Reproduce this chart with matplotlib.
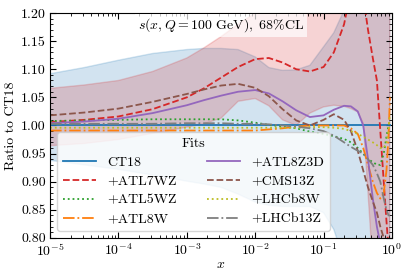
import numpy as np
import matplotlib
matplotlib.use("Agg")
import matplotlib.pyplot as plt
from matplotlib.ticker import MultipleLocator

plt.rcParams['font.family'] = ['cmr10', 'DejaVu Serif']
plt.rcParams['mathtext.fontset'] = 'cm'
plt.rcParams['axes.formatter.use_mathtext'] = True
plt.rcParams['font.size'] = 10

# log10(x) grid the values were read on
logx = [-5, -4.5, -4, -3.5, -3, -2.75, -2.5, -2.25, -2, -1.8, -1.6, -1.4, -1.2, -1.0,
        -0.85, -0.7, -0.6, -0.5, -0.42, -0.35, -0.28, -0.22, -0.17, -0.12, -0.08, -0.05, -0.03]
x = 10 ** np.array(logx)

ct18 = [1.0] * len(logx)
atl7wz = [1.006, 1.010, 1.016, 1.029, 1.050, 1.066, 1.085, 1.104, 1.118, 1.120, 1.112, 1.100, 1.096, 1.104,
          1.13, 1.18, 1.24, 1.27, 1.23, 1.17, 1.12, 1.08, 0.99, 0.90, 0.83, 0.78, 0.75]
atl5wz = [1.008, 1.009, 1.010, 1.011, 1.011, 1.011, 1.011, 1.009, 1.005, 1.001, 0.998, 0.995, 0.989, 0.985,
          0.981, 0.976, 0.970, 0.960, 0.950, 0.940, 0.935, 0.930, 0.930, 0.950, 0.980, 1.000, 1.010]
atl8w = [0.991, 0.991, 0.991, 0.991, 0.991, 0.991, 0.991, 0.991, 0.991, 0.993, 0.995, 0.998, 1.0, 1.0,
         1.0, 1.0, 0.995, 0.985, 0.96, 0.93, 0.90, 0.88, 0.87, 0.88, 0.92, 0.98, 1.05]
atl8z3d = [1.004, 1.007, 1.012, 1.022, 1.036, 1.045, 1.053, 1.060, 1.063, 1.057, 1.043, 1.027, 1.015, 1.018,
           1.028, 1.035, 1.034, 1.025, 1.0, 0.94, 0.87, 0.82, 0.79, 0.77, 0.75, 0.74, 0.73]
cms13z = [1.018, 1.023, 1.030, 1.042, 1.056, 1.064, 1.071, 1.074, 1.067, 1.052, 1.029, 1.009, 1.0, 1.010,
          1.020, 1.010, 0.99, 0.955, 0.92, 0.89, 0.865, 0.845, 0.82, 0.80, 0.78, 0.76, 0.75]
lhcb8w = [0.996, 0.996, 0.996, 0.996, 0.996, 0.996, 0.996, 0.996, 0.996, 0.996, 0.996, 0.996, 0.997, 0.997,
          0.996, 0.994, 0.990, 0.985, 0.980, 0.975, 0.970, 0.965, 0.960, 0.960, 0.970, 0.990, 1.02]
lhcb13z = [1.003, 1.003, 1.003, 1.003, 1.004, 1.004, 1.004, 1.003, 1.003, 1.002, 1.0, 0.998, 0.995, 0.99,
           0.982, 0.970, 0.962, 0.955, 0.950, 0.940, 0.930, 0.915, 0.90, 0.87, 0.85, 0.84, 0.84]

# 68% CL bands
ct18_hi = [1.092, 1.103, 1.116, 1.128, 1.135, 1.137, 1.137, 1.135, 1.122, 1.103, 1.098, 1.099, 1.107, 1.14,
           1.165, 1.205, 1.26, 1.33, 1.40, 1.5, 1.6, 1.7, 1.8, 1.9, 2.0, 2.1, 2.2]
ct18_lo = [0.938, 0.930, 0.922, 0.912, 0.901, 0.896, 0.890, 0.878, 0.864, 0.858, 0.856, 0.856, 0.856, 0.845,
           0.815, 0.76, 0.72, 0.68, 0.64, 0.60, 0.56, 0.52, 0.48, 0.44, 0.40, 0.36, 0.32]
atl7_hi = [1.066, 1.072, 1.080, 1.096, 1.120, 1.138, 1.158, 1.180, 1.200, 1.22, 1.24, 1.27, 1.30, 1.34,
           1.38, 1.42, 1.46, 1.5, 1.55, 1.6, 1.65, 1.7, 1.75, 1.8, 1.85, 1.9, 1.95]
atl7_lo = [0.964, 0.968, 0.975, 0.986, 0.997, 1.003, 1.013, 1.043, 1.048, 1.035, 1.010, 1.0, 1.022, 1.033,
           1.036, 1.034, 1.030, 1.024, 1.004, 0.88, 0.75, 0.70, 0.65, 0.60, 0.55, 0.50, 0.45]

fig = plt.figure(figsize=(4.07, 2.71), dpi=100)
ax = fig.add_axes([0.123, 0.122, 0.840, 0.830])

ax.fill_between(x, ct18_lo, ct18_hi, color='tab:blue', alpha=0.2)
ax.fill_between(x, atl7_lo, atl7_hi, color='tab:red', alpha=0.2)

lw = 1.3
ax.plot(x, ct18, color='tab:blue', lw=lw, ls='-', label='CT18')
ax.plot(x, atl7wz, color='tab:red', lw=lw, ls='--', label='+ATL7WZ')
ax.plot(x, atl5wz, color='tab:green', lw=lw, ls=':', label='+ATL5WZ')
ax.plot(x, atl8w, color='tab:orange', lw=lw, ls='-.', label='+ATL8W')
ax.plot(x, atl8z3d, color='tab:purple', lw=lw, ls='-', label='+ATL8Z3D')
ax.plot(x, cms13z, color='tab:brown', lw=lw, ls='--', label='+CMS13Z')
ax.plot(x, lhcb8w, color='tab:olive', lw=lw, ls=':', label='+LHCb8W')
ax.plot(x, lhcb13z, color='tab:gray', lw=lw, ls='-.', label='+LHCb13Z')

ax.set_xscale('log')
ax.set_xlim(1e-5, 1)
ax.set_ylim(0.8, 1.2)
ax.yaxis.set_major_locator(MultipleLocator(0.05))
ax.yaxis.set_minor_locator(MultipleLocator(0.01))
ax.yaxis.set_major_formatter(matplotlib.ticker.FormatStrFormatter('%.2f'))
ax.tick_params(which='both', direction='in', top=True, right=True)
ax.tick_params(which='major', length=4, pad=3)
ax.tick_params(which='minor', length=2)

ax.set_xlabel('$x$', labelpad=0)
ax.set_ylabel('Ratio to CT18', labelpad=3)

ax.text(0.5, 0.945, r'$s(x,Q=100\ \mathrm{GeV}),\ 68\%\mathrm{CL}$', transform=ax.transAxes,
        ha='center', va='center', fontsize=10,
        bbox=dict(facecolor='white', edgecolor='none', alpha=0.7, pad=2))

ax.legend(title='Fits', ncol=2, loc='lower left', handlelength=2.4, columnspacing=2.2,
          fontsize=10, title_fontsize=10, labelspacing=0.45)

fig.savefig('out.png', dpi=100)
